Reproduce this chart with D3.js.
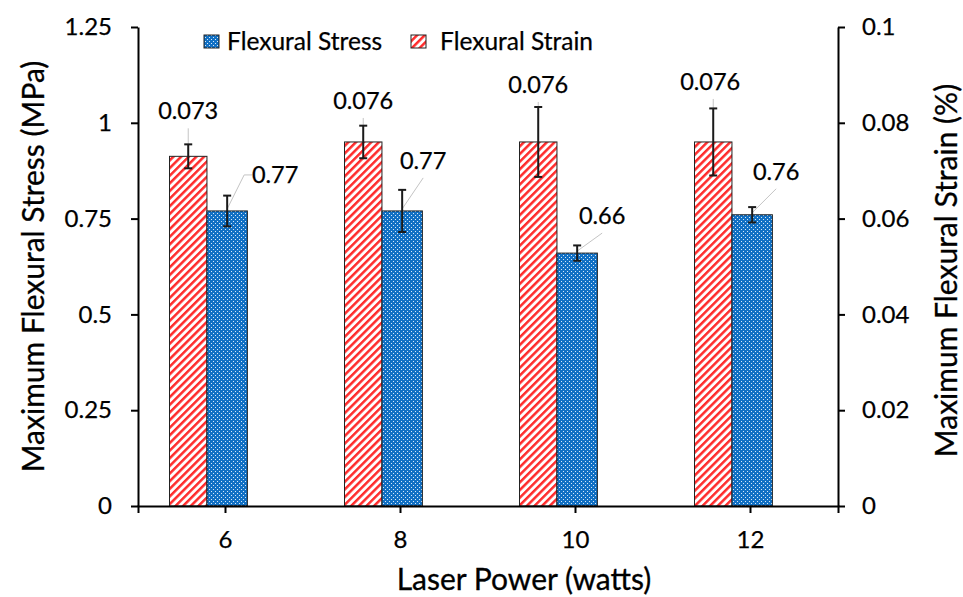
<!DOCTYPE html>
<html><head><meta charset="utf-8">
<script src="https://cdn.jsdelivr.net/npm/d3@7"></script>
<style>
body{margin:0;background:#fff}
svg{display:block}
text{font-family:Lato,"Open Sans",sans-serif;fill:#000}
</style>
</head><body>
<svg id="chart" width="963" height="597"></svg>
<script>
// ---- data ----
const categories = ["6", "8", "10", "12"];
const stressValues = [0.77, 0.77, 0.66, 0.76];
const stressErrors = [0.04, 0.055, 0.02, 0.02];
const strainValues = [0.073, 0.076, 0.076, 0.076];
const strainErrors = [0.0025, 0.0034, 0.0073, 0.007];
const stressTicks = [0, 0.25, 0.5, 0.75, 1, 1.25];
const strainTicks = [0, 0.02, 0.04, 0.06, 0.08, 0.1];
const stressLabels = ["0.77", "0.77", "0.66", "0.76"];
const strainLabels = ["0.073", "0.076", "0.076", "0.076"];
const seriesNames = ["Flexural Stress", "Flexural Strain"];
// ---- layout (label offsets from bar top centre) ----
const stressLabelOffsets = [[48, -28], [21, -42], [25, -29], [24, -35]];
const strainLabelOffsets = [[0, -37], [0, -33], [0, -49], [-3, -52]];

const svg = d3.select("#chart");
const L = 138, R = 838, T = 27, B = 506;

const defs = svg.append("defs");
const pb = defs.append("pattern").attr("id","dots").attr("patternUnits","userSpaceOnUse")
  .attr("width",4).attr("height",4);
pb.append("rect").attr("width",4).attr("height",4).attr("fill","#1170c4");
pb.append("rect").attr("x",1).attr("y",1).attr("width",1).attr("height",1).attr("fill","#d6e8f8");
pb.append("rect").attr("x",3).attr("y",3).attr("width",1).attr("height",1).attr("fill","#d6e8f8");

const ps = defs.append("pattern").attr("id","stripes").attr("patternUnits","userSpaceOnUse")
  .attr("width",5.4).attr("height",10).attr("patternTransform","rotate(45)");
ps.append("rect").attr("width",5.4).attr("height",10).attr("fill","#fff");
ps.append("rect").attr("width",2.5).attr("height",10).attr("fill","#ff2b2b");

const x = d3.scaleBand().domain(categories).range([L, R]).padding(0);
const bw = x.bandwidth();
const yL = d3.scaleLinear().domain([0, 1.25]).range([B, T]);
const yR = d3.scaleLinear().domain([0, 0.1]).range([B, T]);

const redX = c => x(c) + bw * 0.18, redW = bw * 0.214;
const blueX = c => x(c) + bw * 0.394, blueW = bw * 0.231;

// bars
const g = svg.append("g");
g.selectAll(".strain").data(categories).join("rect")
  .attr("x", redX).attr("width", redW)
  .attr("y", (c,i) => yR(strainValues[i])).attr("height", (c,i) => B - yR(strainValues[i]))
  .attr("fill","url(#stripes)").attr("stroke","#222").attr("stroke-width",1);
g.selectAll(".stress").data(categories).join("rect")
  .attr("x", blueX).attr("width", blueW)
  .attr("y", (c,i) => yL(stressValues[i])).attr("height", (c,i) => B - yL(stressValues[i]))
  .attr("fill","url(#dots)").attr("stroke","#222").attr("stroke-width",1);

// leader lines
const lead = svg.append("g").attr("stroke","#c4c4c4").attr("stroke-width",1).attr("fill","none");
categories.forEach((c,i) => {
  const cx = redX(c) + redW/2, top = yR(strainValues[i]);
  const ly = top + strainLabelOffsets[i][1];
  lead.append("line").attr("x1", cx).attr("x2", cx).attr("y1", ly + 9).attr("y2", top);
});
categories.forEach((c,i) => {
  const cx = blueX(c) + blueW/2, top = yL(stressValues[i]);
  const lx = cx + stressLabelOffsets[i][0], ly = top + stressLabelOffsets[i][1];
  if (stressLabelOffsets[i][0] > 35) {
    lead.append("polyline").attr("points", `${lx-23},${ly-8} ${lx-31},${ly-8} ${cx},${top-2}`);
  } else {
    lead.append("line").attr("x1", lx).attr("y1", ly + 9).attr("x2", cx).attr("y2", top - 2);
  }
});

// error bars
const eb = svg.append("g").attr("stroke","#1a1a1a").attr("stroke-width",2);
function errBar(cx, y1, y2){
  eb.append("line").attr("x1",cx).attr("x2",cx).attr("y1",y1).attr("y2",y2);
  eb.append("line").attr("x1",cx-4).attr("x2",cx+4).attr("y1",y1).attr("y2",y1);
  eb.append("line").attr("x1",cx-4).attr("x2",cx+4).attr("y1",y2).attr("y2",y2);
}
categories.forEach((c,i) => {
  errBar(redX(c)+redW/2, yR(strainValues[i]+strainErrors[i]), yR(strainValues[i]-strainErrors[i]));
  errBar(blueX(c)+blueW/2, yL(stressValues[i]+stressErrors[i]), yL(stressValues[i]-stressErrors[i]));
});

// data labels
const lab = svg.append("g").attr("font-size",23.5).attr("text-anchor","middle")
  .attr("stroke","#000").attr("stroke-width",0.25);
categories.forEach((c,i) => {
  lab.append("text").attr("x", redX(c)+redW/2 + strainLabelOffsets[i][0])
    .attr("y", yR(strainValues[i]) + strainLabelOffsets[i][1]).text(strainLabels[i]);
  lab.append("text").attr("x", blueX(c)+blueW/2 + stressLabelOffsets[i][0])
    .attr("y", yL(stressValues[i]) + stressLabelOffsets[i][1]).text(stressLabels[i]);
});

// axes
function styleAxis(sel){
  sel.select(".domain").attr("stroke","#000").attr("stroke-width",2);
  sel.selectAll(".tick line").attr("stroke","#000").attr("stroke-width",2);
  sel.selectAll("text").attr("font-family","Lato, 'Open Sans', sans-serif").attr("font-size",24)
    .attr("fill","#000").attr("stroke","#000").attr("stroke-width",0.25);
}
svg.append("g").attr("transform",`translate(0,${B})`)
  .call(d3.axisBottom(x).tickSize(7).tickSizeOuter(7).tickPadding(18))
  .call(styleAxis);
svg.append("g").attr("transform",`translate(${L},0)`)
  .call(d3.axisLeft(yL).tickValues(stressTicks).tickFormat(d => String(d)).tickSize(7).tickSizeOuter(0).tickPadding(19))
  .call(styleAxis);
svg.append("g").attr("transform",`translate(${R},0)`)
  .call(d3.axisRight(yR).tickValues(strainTicks).tickFormat(d => String(d)).tickSize(7).tickSizeOuter(0).tickPadding(17))
  .call(styleAxis);

// axis titles
const tt = svg.append("g").attr("font-size",30).attr("text-anchor","middle")
  .attr("stroke","#000").attr("stroke-width",0.3);
tt.append("text").attr("transform",`translate(44,${(T+B)/2}) rotate(-90)`)
  .text("Maximum Flexural Stress (MPa)");
tt.append("text").attr("transform",`translate(957,${(T+B)/2 + 4}) rotate(-90)`)
  .text("Maximum Flexural Strain (%)");
tt.append("text").attr("x", 524).attr("y", 590).text("Laser Power (watts)");

// legend
const leg = svg.append("g");
const legX = [204, 411], legT = [227, 440];
["url(#dots)", "url(#stripes)"].forEach((f,i) => {
  leg.append("rect").attr("x", legX[i]).attr("y", 35).attr("width", 15).attr("height", 13)
    .attr("fill", f).attr("stroke","#222").attr("stroke-width",1);
  leg.append("text").attr("x", legT[i]).attr("y", 50).attr("font-size",24.5)
    .attr("stroke","#000").attr("stroke-width",0.25).text(seriesNames[i]);
});
</script>
</body></html>
